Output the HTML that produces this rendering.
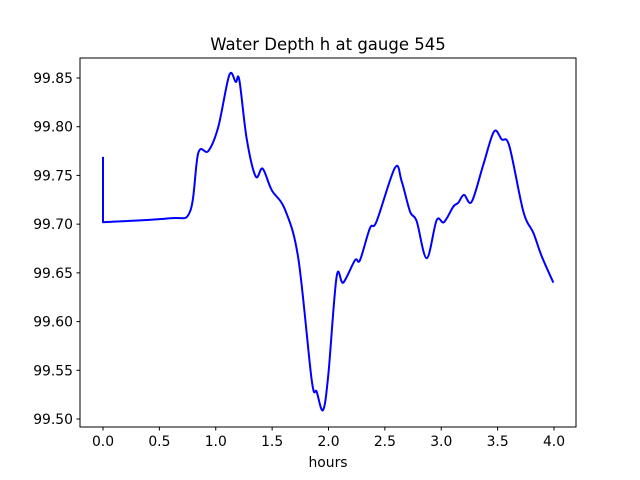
<!DOCTYPE html>
<html><head><meta charset="utf-8"><style>
body{margin:0;background:#fff;}
svg{display:block;font-family:"DejaVu Sans","Liberation Sans",sans-serif;}
</style></head><body>
<svg id="chart" width="640" height="480" viewBox="0 0 640 480">
<rect x="0" y="0" width="640" height="480" fill="#fff"/>
<text x="328" y="50" text-anchor="middle" font-size="16.5" fill="#000">Water Depth h at gauge 545</text>
<g id="axes"></g>
<path id="series" fill="none" stroke="#0000ff" stroke-width="2" stroke-linejoin="round"/>
<rect x="80" y="58" width="496" height="369" fill="none" stroke="#000" stroke-width="1"/>
<text x="328" y="467" text-anchor="middle" font-size="13.9" fill="#000">hours</text>
</svg>
<script>
const hours=[0,0,0.594,0.772,0.845,0.934,1.023,1.120,1.177,1.209,1.274,1.354,1.416,1.496,1.614,1.732,1.851,1.895,1.951,1.998,2.072,2.131,2.235,2.279,2.368,2.427,2.590,2.649,2.723,2.782,2.871,2.959,3.024,3.107,3.151,3.202,3.270,3.373,3.468,3.536,3.604,3.728,3.817,3.891,3.994];
const depth=[99.769,99.702,99.706,99.713,99.773,99.775,99.800,99.853,99.846,99.848,99.788,99.749,99.757,99.735,99.715,99.665,99.540,99.528,99.509,99.545,99.646,99.640,99.663,99.663,99.696,99.703,99.758,99.744,99.713,99.703,99.665,99.704,99.702,99.718,99.722,99.730,99.723,99.761,99.795,99.787,99.780,99.713,99.691,99.667,99.640];
const xTicks=[0,0.5,1,1.5,2,2.5,3,3.5,4];
const xTickLabels=["0.0","0.5","1.0","1.5","2.0","2.5","3.0","3.5","4.0"];
const yTicks=[99.50,99.55,99.60,99.65,99.70,99.75,99.80,99.85];
const yTickLabels=["99.50","99.55","99.60","99.65","99.70","99.75","99.80","99.85"];

const X=v=>103+v*112.75;
const Y=v=>78+(99.85-v)*974.3;
const NS="http://www.w3.org/2000/svg";
const axes=document.getElementById('axes');
function mk(tag,attrs){const e=document.createElementNS(NS,tag);for(const k in attrs)e.setAttribute(k,attrs[k]);return e;}
xTicks.forEach((t,i)=>{
  const l=mk('line',{x1:X(t),x2:X(t),y1:427,y2:430.5,stroke:'#000','stroke-width':1});
  
  
  axes.appendChild(l);
  const tx=mk('text',{x:X(t),y:446,'text-anchor':'middle','font-size':13.9});
  
  
  tx.textContent=xTickLabels[i];axes.appendChild(tx);
});
yTicks.forEach((t,i)=>{
  const l=mk('line',{x1:76.5,x2:80,y1:Y(t),y2:Y(t),stroke:'#000','stroke-width':1});
  
  
  axes.appendChild(l);
  const tx=mk('text',{x:73,y:Y(t)+5,'text-anchor':'end','font-size':13.9});
  
  
  tx.textContent=yTickLabels[i];axes.appendChild(tx);
});
// path: vertical start then Catmull-Rom through the rest
const P=hours.map((h,i)=>[X(h),Y(depth[i])]);
let d=`M${P[0][0]},${P[0][1]} L${P[1][0]},${P[1][1]}`;
for(let i=1;i<P.length-1;i++){
  const p0=P[Math.max(1,i-1)],p1=P[i],p2=P[i+1],p3=P[Math.min(P.length-1,i+2)];
  const c1=[p1[0]+(p2[0]-p0[0])/6,p1[1]+(p2[1]-p0[1])/6];
  const c2=[p2[0]-(p3[0]-p1[0])/6,p2[1]-(p3[1]-p1[1])/6];
  d+=` C${c1[0]},${c1[1]} ${c2[0]},${c2[1]} ${p2[0]},${p2[1]}`;
}
document.getElementById('series').setAttribute('d',d);
</script>
</body></html>
